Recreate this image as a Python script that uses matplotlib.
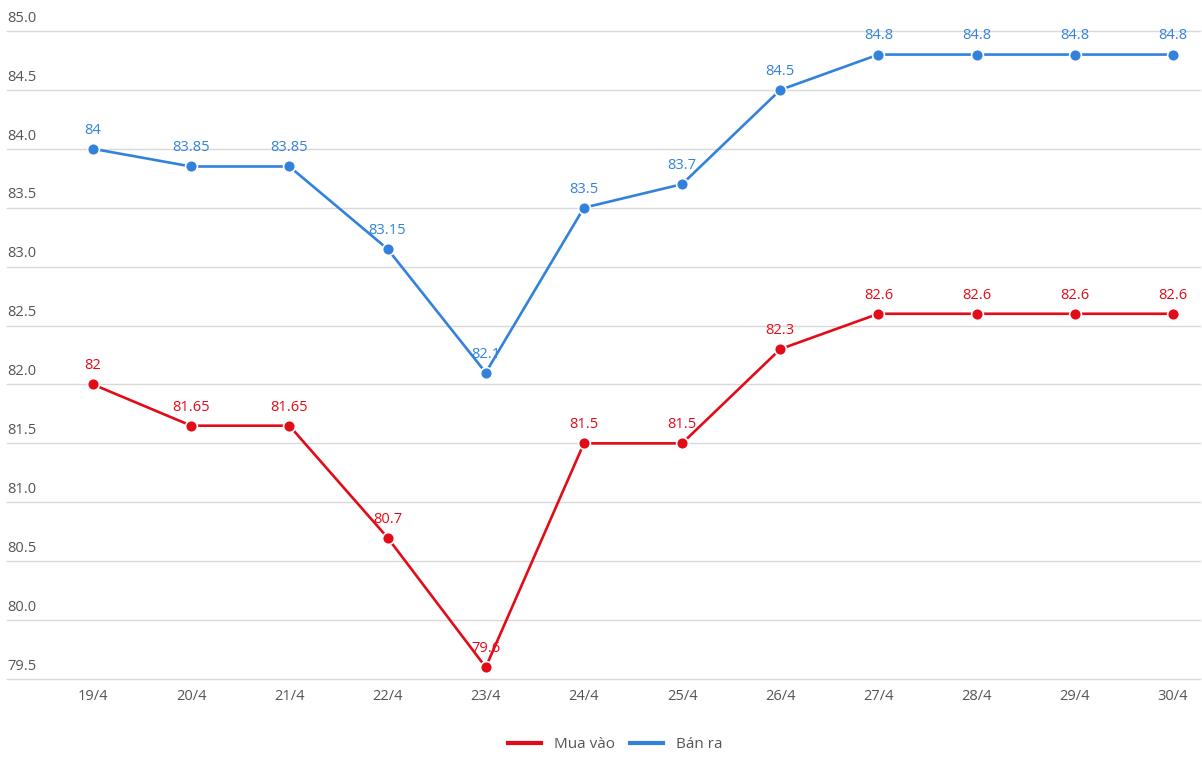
import matplotlib.pyplot as plt
from matplotlib.lines import Line2D

plt.rcParams['font.family'] = ['Open Sans', 'DejaVu Sans']

# Dữ liệu
ngay = ['19/4', '20/4', '21/4', '22/4', '23/4', '24/4', '25/4', '26/4', '27/4', '28/4', '29/4', '30/4']
mua_vao = [82, 81.65, 81.65, 80.7, 79.6, 81.5, 81.5, 82.3, 82.6, 82.6, 82.6, 82.6]
ban_ra = [84, 83.85, 83.85, 83.15, 82.1, 83.5, 83.7, 84.5, 84.8, 84.8, 84.8, 84.8]
y_ticks = [79.5, 80.0, 80.5, 81.0, 81.5, 82.0, 82.5, 83.0, 83.5, 84.0, 84.5, 85.0]

RED = '#e30b17'
BLUE = '#3282dc'

W, H = 1202, 760
fig = plt.figure(figsize=(W / 100, H / 100), dpi=100)
ax = fig.add_axes([7 / W, 1 - 679 / H, 1193 / W, 648 / H])

x = list(range(len(ngay)))
for vals, col in [(mua_vao, RED), (ban_ra, BLUE)]:
    ax.plot(x, vals, color=col, lw=1.9, marker='o', ms=8.5,
            markeredgecolor='white', markeredgewidth=1.2, zorder=3, clip_on=False)
    for xi, v in zip(x, vals):
        txt = ('%g' % v)
        ax.annotate(txt, (xi, v), xytext=(0, 8), textcoords='offset points',
                    ha='center', va='bottom', color=col, fontsize=10.5, zorder=4)

ax.set_xlim(-0.876, 11.275)
ax.set_ylim(79.5, 85.0)

# Lưới ngang và nhãn trục y
for t in y_ticks:
    ax.axhline(t, color='#d9d9d9', lw=1, zorder=1, clip_on=False)
    ax.text(0, t + 0.045, '%.1f' % t, transform=ax.get_yaxis_transform(),
            ha='left', va='bottom', color='#555555', fontsize=10.5)

ax.set_yticks([])
ax.set_xticks(x)
ax.set_xticklabels(ngay, color='#555555', fontsize=10.5)
ax.tick_params(axis='x', length=0, pad=7)
for s in ax.spines.values():
    s.set_visible(False)

handles = [Line2D([], [], color=RED, lw=3), Line2D([], [], color=BLUE, lw=3)]
fig.legend(handles, ['Mua vào', 'Bán ra'], loc='center', bbox_to_anchor=(615 / W, 1 - 745 / H),
           ncol=2, frameon=False, fontsize=11, handlelength=2.2, columnspacing=1.0,
           labelcolor='#555555')

fig.savefig('out.png', dpi=100)
